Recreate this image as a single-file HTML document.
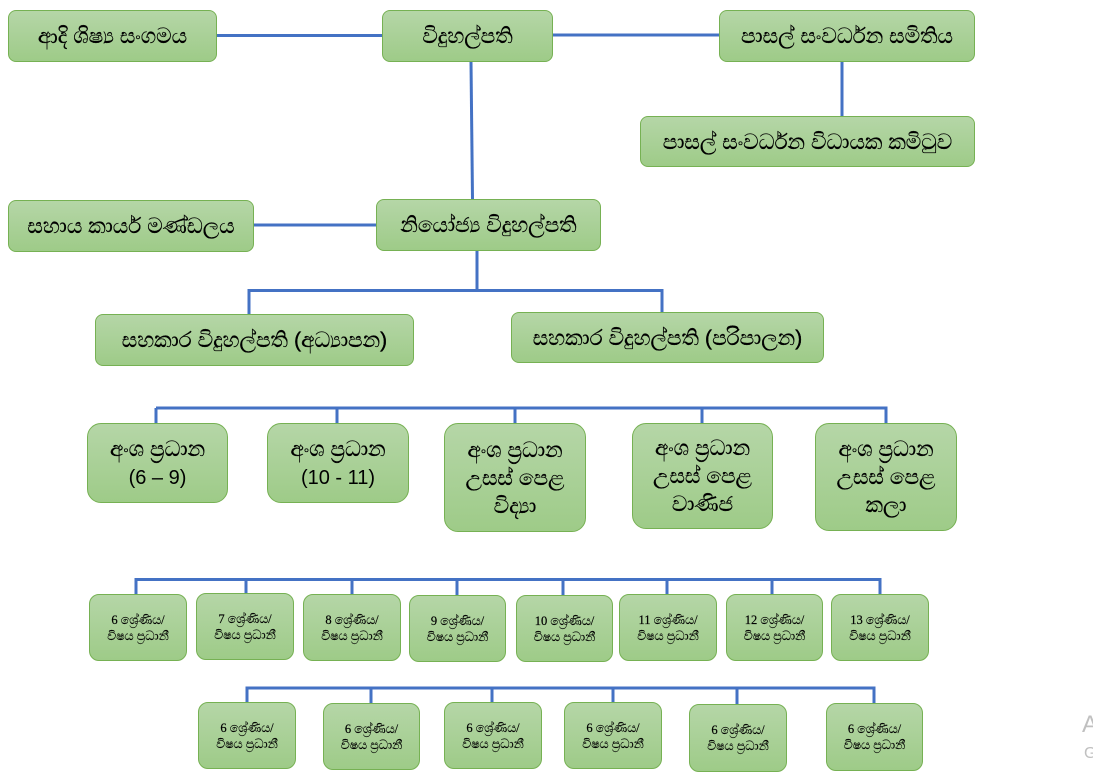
<!DOCTYPE html>
<html>
<head>
<meta charset="utf-8">
<style>
html,body{margin:0;padding:0;background:#fff;}
body{width:1093px;height:782px;position:relative;overflow:hidden;font-family:"Liberation Sans","Noto Sans CJK SC",sans-serif;}
svg.lines{position:absolute;left:0;top:0;}
.b{position:absolute;box-sizing:border-box;border:1px solid #76b153;border-radius:8px;
background:linear-gradient(#b5d6a7,#9ecb88);display:flex;align-items:center;justify-content:center;
text-align:center;color:#000;font-size:21.5px;line-height:28px;white-space:nowrap;-webkit-text-stroke:0.35px #000;}
.t{border-radius:14px;font-size:21.5px;line-height:28px;}
.t .n{font-size:20px;-webkit-text-stroke:0;}
.s{border-radius:10px;font-family:"Liberation Serif","Noto Serif CJK SC",serif;font-size:12.5px;line-height:16px;-webkit-text-stroke:0.2px #000;}
.wm{position:absolute;color:#c0c0c0;font-family:"Liberation Sans",sans-serif;}
</style>
</head>
<body>
<svg class="lines" width="1093" height="782" viewBox="0 0 1093 782">
<g stroke="#4472c4" stroke-width="3" fill="none">
<line x1="217" y1="35.5" x2="382" y2="35.5"/>
<line x1="553" y1="35" x2="719" y2="35"/>
<line x1="842" y1="62" x2="842" y2="116"/>
<line x1="471" y1="62" x2="472.5" y2="199"/>
<line x1="254" y1="225" x2="376" y2="225"/>
<polyline points="477,251 477,290"/>
<polyline points="249,314 249,290.5 662,290.5 662,312"/>
<line x1="156" y1="408" x2="886" y2="408"/>
<line x1="156" y1="408" x2="156" y2="423"/>
<line x1="337" y1="408" x2="337" y2="423"/>
<line x1="515" y1="408" x2="515" y2="423"/>
<line x1="702" y1="408" x2="702" y2="423"/>
<line x1="886" y1="406.5" x2="886" y2="423"/>
<line x1="136" y1="579.5" x2="880" y2="579.5"/>
<line x1="136" y1="578" x2="136" y2="594"/>
<line x1="246" y1="579" x2="246" y2="593"/>
<line x1="352" y1="579" x2="352" y2="594"/>
<line x1="457" y1="579" x2="457" y2="595"/>
<line x1="563" y1="579" x2="563" y2="595"/>
<line x1="667" y1="579" x2="667" y2="594"/>
<line x1="772" y1="579" x2="772" y2="594"/>
<line x1="880" y1="578" x2="880" y2="594"/>
<line x1="247" y1="688" x2="874" y2="688"/>
<line x1="247" y1="686.5" x2="247" y2="702"/>
<line x1="371" y1="688" x2="371" y2="703"/>
<line x1="492" y1="688" x2="492" y2="702"/>
<line x1="613" y1="688" x2="613" y2="702"/>
<line x1="737" y1="688" x2="737" y2="704"/>
<line x1="874" y1="686.5" x2="874" y2="703"/>
</g>
</svg>

<div class="b" style="left:8px;top:10px;width:209px;height:52px;">ආදි ශිෂ්‍ය සංගමය</div>
<div class="b" style="left:382px;top:10px;width:171px;height:52px;">විදුහල්පති</div>
<div class="b" style="left:719px;top:10px;width:256px;height:52px;">පාසල් සංවර්ධන සමිතිය</div>
<div class="b" style="left:640px;top:116px;width:335px;height:51px;">පාසල් සංවර්ධන විධායක කමිටුව</div>
<div class="b" style="left:8px;top:200px;width:246px;height:52px;">සහාය කාර්ය මණ්ඩලය</div>
<div class="b" style="left:376px;top:199px;width:225px;height:52px;">නියෝජ්‍ය විදුහල්පති</div>
<div class="b" style="left:95px;top:314px;width:319px;height:52px;">සහකාර විදුහල්පති (අධ්‍යාපන)</div>
<div class="b" style="left:511px;top:312px;width:313px;height:51px;">සහකාර විදුහල්පති (පරිපාලන)</div>

<div class="b t" style="left:87px;top:423px;width:141px;height:80px;"><div>අංශ ප්‍රධාන<br><span class="n">(6 – 9)</span></div></div>
<div class="b t" style="left:267px;top:423px;width:142px;height:80px;"><div>අංශ ප්‍රධාන<br><span class="n">(10 - 11)</span></div></div>
<div class="b t" style="left:444px;top:423px;width:142px;height:109px;">අංශ ප්‍රධාන<br>උසස් පෙළ<br>විද්‍යා</div>
<div class="b t" style="left:632px;top:423px;width:141px;height:106px;">අංශ ප්‍රධාන<br>උසස් පෙළ<br>වාණිජ</div>
<div class="b t" style="left:815px;top:423px;width:142px;height:108px;">අංශ ප්‍රධාන<br>උසස් පෙළ<br>කලා</div>

<div class="b s" style="left:89px;top:594px;width:98px;height:67px;">6 ශ්‍රේණිය/<br>විෂය ප්‍රධානී</div>
<div class="b s" style="left:196px;top:593px;width:98px;height:67px;">7 ශ්‍රේණිය/<br>විෂය ප්‍රධානී</div>
<div class="b s" style="left:303px;top:594px;width:98px;height:67px;">8 ශ්‍රේණිය/<br>විෂය ප්‍රධානී</div>
<div class="b s" style="left:409px;top:595px;width:97px;height:67px;">9 ශ්‍රේණිය/<br>විෂය ප්‍රධානී</div>
<div class="b s" style="left:516px;top:595px;width:97px;height:67px;">10 ශ්‍රේණිය/<br>විෂය ප්‍රධානී</div>
<div class="b s" style="left:619px;top:594px;width:98px;height:67px;">11 ශ්‍රේණිය/<br>විෂය ප්‍රධානී</div>
<div class="b s" style="left:726px;top:594px;width:97px;height:67px;">12 ශ්‍රේණිය/<br>විෂය ප්‍රධානී</div>
<div class="b s" style="left:831px;top:594px;width:98px;height:67px;">13 ශ්‍රේණිය/<br>විෂය ප්‍රධානී</div>

<div class="b s" style="left:198px;top:702px;width:98px;height:67px;">6 ශ්‍රේණිය/<br>විෂය ප්‍රධානී</div>
<div class="b s" style="left:323px;top:703px;width:97px;height:67px;">6 ශ්‍රේණිය/<br>විෂය ප්‍රධානී</div>
<div class="b s" style="left:444px;top:702px;width:98px;height:67px;">6 ශ්‍රේණිය/<br>විෂය ප්‍රධානී</div>
<div class="b s" style="left:564px;top:702px;width:98px;height:67px;">6 ශ්‍රේණිය/<br>විෂය ප්‍රධානී</div>
<div class="b s" style="left:689px;top:704px;width:98px;height:68px;">6 ශ්‍රේණිය/<br>විෂය ප්‍රධානී</div>
<div class="b s" style="left:826px;top:703px;width:97px;height:68px;">6 ශ්‍රේණිය/<br>විෂය ප්‍රධානී</div>

<div class="wm" style="left:1082px;top:711px;font-size:24px;line-height:28px;">A</div>
<div class="wm" style="left:1084px;top:744px;font-size:16px;line-height:20px;">G</div>
</body>
</html>
